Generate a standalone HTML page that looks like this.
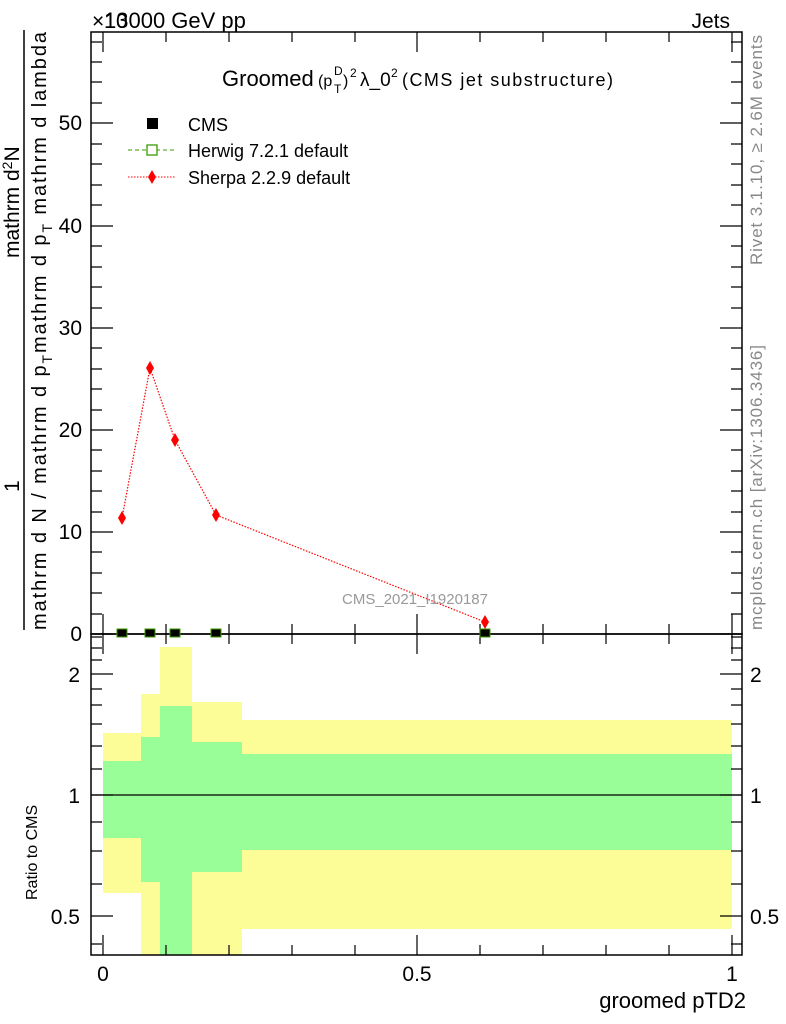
<!DOCTYPE html>
<html><head><meta charset="utf-8"><style>body{margin:0;background:#fff}svg{display:block}text{font-family:"Liberation Sans",sans-serif}</style></head><body>
<svg width="786" height="1024" viewBox="0 0 786 1024" xmlns="http://www.w3.org/2000/svg">
<g>
<rect x="103" y="733" width="38" height="160" fill="#fdfd98"/><rect x="103" y="761" width="38" height="77" fill="#9afe98"/>
<rect x="141" y="694" width="19" height="261" fill="#fdfd98"/><rect x="141" y="737" width="19" height="145" fill="#9afe98"/>
<rect x="160" y="647" width="32" height="308" fill="#fdfd98"/><rect x="160" y="706" width="32" height="249" fill="#9afe98"/>
<rect x="192" y="702" width="50" height="253" fill="#fdfd98"/><rect x="192" y="742" width="50" height="130" fill="#9afe98"/>
<rect x="242" y="720" width="490" height="209" fill="#fdfd98"/><rect x="242" y="754" width="490" height="96" fill="#9afe98"/>
</g>
<line x1="91" y1="795" x2="742" y2="795" stroke="#000" stroke-width="1.2"/>
<rect x="91" y="32" width="651" height="602" fill="none" stroke="#000" stroke-width="1.5"/>
<rect x="91" y="634" width="651" height="321" fill="none" stroke="#000" stroke-width="1.5"/>
<g stroke="#000" stroke-width="1.2">
<path d="M91 634h22M91 532h22M91 430h22M91 328h22M91 226h22M91 123h22M742 634h-22M742 532h-22M742 430h-22M742 328h-22M742 226h-22M742 123h-22"/>
<path d="M91 614h11M91 593h11M91 573h11M91 552h11M91 512h11M91 491h11M91 471h11M91 450h11M91 410h11M91 389h11M91 369h11M91 348h11M91 308h11M91 287h11M91 267h11M91 246h11M91 205h11M91 185h11M91 164h11M91 144h11M91 103h11M91 82h11M91 62h11M91 42h11
M742 614h-11M742 593h-11M742 573h-11M742 552h-11M742 512h-11M742 491h-11M742 471h-11M742 450h-11M742 410h-11M742 389h-11M742 369h-11M742 348h-11M742 308h-11M742 287h-11M742 267h-11M742 246h-11M742 205h-11M742 185h-11M742 164h-11M742 144h-11M742 103h-11M742 82h-11M742 62h-11M742 42h-11"/>
<path d="M103 634v-20M417 634v-20M732 634v-20M103 32v20M417 32v20M732 32v20
M166 634v-10M229 634v-10M292 634v-10M355 634v-10M480 634v-10M543 634v-10M606 634v-10M669 634v-10
M166 32v10M229 32v10M292 32v10M355 32v10M480 32v10M543 32v10M606 32v10M669 32v10
M103 955v-20M417 955v-20M732 955v-20M103 634v20M417 634v20M732 634v20
M166 955v-10M229 955v-10M292 955v-10M355 955v-10M480 955v-10M543 955v-10M606 955v-10M669 955v-10
M166 634v10M229 634v10M292 634v10M355 634v10M480 634v10M543 634v10M606 634v10M669 634v10"/>
<path d="M91 674h22M91 795h22M91 916h22M742 674h-22M742 795h-22M742 916h-22
M91 944h11M91 884h11M91 851h11M91 822h11M91 769h11M91 746h11M91 724h11M91 705h11M91 689h11M91 660h11M91 648h11M91 637h11
M742 944h-11M742 884h-11M742 851h-11M742 822h-11M742 769h-11M742 746h-11M742 724h-11M742 705h-11M742 689h-11M742 660h-11M742 648h-11M742 637h-11"/>
</g>
<g font-size="21" text-anchor="end">
<text x="82" y="641">0</text><text x="82" y="539">10</text><text x="82" y="437">20</text><text x="82" y="335">30</text><text x="82" y="233">40</text><text x="82" y="130">50</text>
<text x="80" y="682">2</text><text x="80" y="803">1</text><text x="80" y="924">0.5</text>
</g>
<g font-size="21" text-anchor="start">
<text x="750" y="682">2</text><text x="750" y="803">1</text><text x="750" y="924">0.5</text>
</g>
<g font-size="21" text-anchor="middle">
<text x="103" y="981">0</text><text x="417" y="981">0.5</text><text x="732" y="981">1</text>
</g>
<text x="746" y="1008" font-size="22" text-anchor="end">groomed pTD2</text>
<text x="92" y="28" font-size="21">×10</text>
<text x="104" y="28" font-size="22">13000 GeV pp</text>
<text x="730" y="28" font-size="21" text-anchor="end">Jets</text>
<text x="222" y="86" font-size="22">Groomed</text>
<text x="318" y="86" font-size="16">(p</text><text x="334" y="93" font-size="12">T</text><text x="334" y="75" font-size="12">D</text><text x="343" y="86" font-size="16">)</text><text x="350" y="77" font-size="12">2</text>
<text x="360" y="86" font-size="19">λ_0</text><text x="391" y="77" font-size="12">2</text><text x="402" y="86" font-size="18" textLength="211">(CMS jet substructure)</text>
<rect x="147" y="118" width="11" height="11" fill="#000"/>
<text x="188" y="131" font-size="18">CMS</text>
<line x1="128" y1="150" x2="175" y2="150" stroke="#3a9a00" stroke-dasharray="4,3"/>
<rect x="147" y="145" width="10" height="10" fill="#fff" stroke="#3a9a00" stroke-width="1.3"/>
<text x="188" y="157" font-size="18">Herwig 7.2.1 default</text>
<line x1="128" y1="177" x2="175" y2="177" stroke="#f00" stroke-dasharray="1.5,1.5"/>
<path d="M152 170l4 7-4 7-4-7z" fill="#f00"/>
<text x="188" y="184" font-size="18">Sherpa 2.2.9 default</text>
<polyline points="122,518 150,368 175,440 216,515 485,622" fill="none" stroke="#f00" stroke-width="1.2" stroke-dasharray="1.5,1.5"/>
<g fill="#f00">
<path d="M122 511l4 7-4 7-4-7z"/><path d="M150 361l4 7-4 7-4-7z"/><path d="M175 433l4 7-4 7-4-7z"/><path d="M216 508l4 7-4 7-4-7z"/><path d="M485 615l4 7-4 7-4-7z"/>
</g>
<g fill="#000" stroke="#3a9a00" stroke-width="1">
<rect x="117" y="629" width="10" height="8"/><rect x="145" y="629" width="10" height="8"/><rect x="170" y="629" width="10" height="8"/><rect x="211" y="629" width="10" height="8"/><rect x="480" y="629" width="10" height="8"/>
</g>
<text x="415" y="604" font-size="15" fill="#999" text-anchor="middle">CMS_2021_I1920187</text>
<text transform="translate(762,265) rotate(-90)" font-size="17" fill="#888" textLength="230">Rivet 3.1.10, ≥ 2.6M events</text>
<text transform="translate(762,630) rotate(-90)" font-size="17" fill="#888" textLength="285">mcplots.cern.ch [arXiv:1306.3436]</text>
<text transform="translate(46,630) rotate(-90)" font-size="20" textLength="598">mathrm d N / mathrm d p<tspan font-size="14" dy="6">T</tspan><tspan dy="-6">mathrm d p</tspan><tspan font-size="14" dy="6">T</tspan><tspan dy="-6"> mathrm d lambda</tspan></text>
<line x1="24" y1="630" x2="24" y2="30" stroke="#000" stroke-width="1.5"/>
<text transform="translate(19,492) rotate(-90)" font-size="21">1</text>
<text transform="translate(19,258) rotate(-90)" font-size="21">mathrm d<tspan font-size="14" dy="-7">2</tspan><tspan dy="7">N</tspan></text>
<text transform="translate(37,900) rotate(-90)" font-size="16">Ratio to CMS</text>
</svg>
</body></html>
